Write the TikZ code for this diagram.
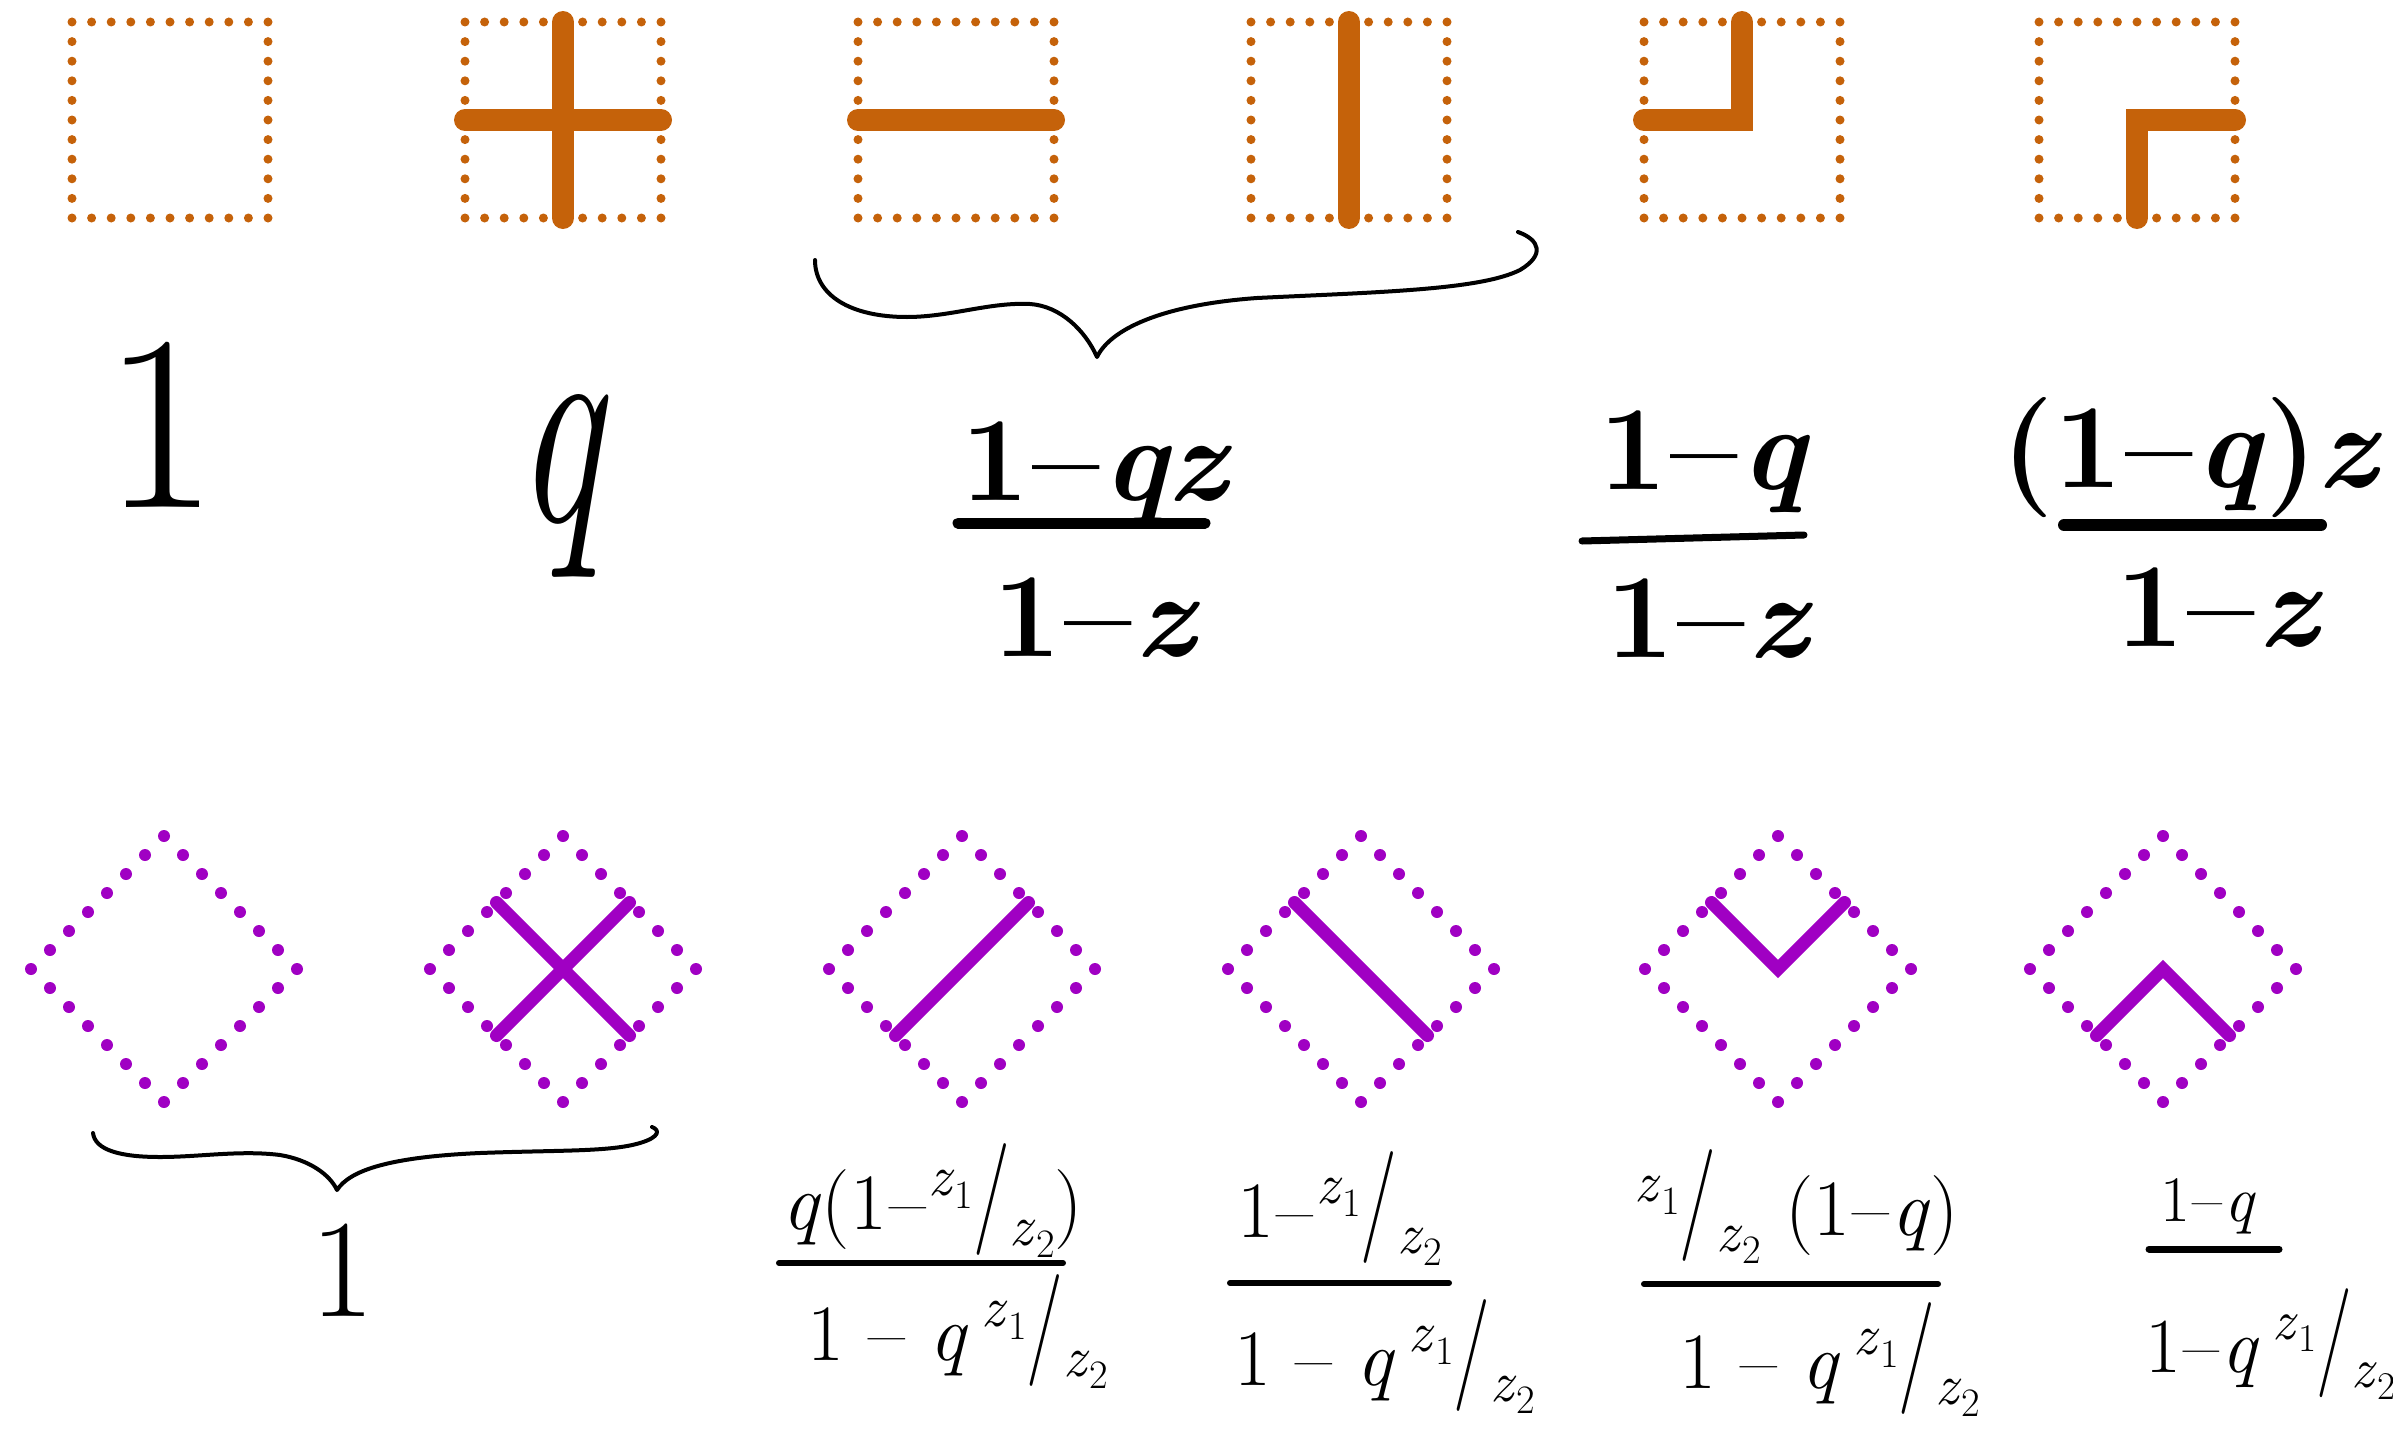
\documentclass[tikz,border=0pt]{standalone}
\usepackage{graphicx}
\definecolor{orng}{HTML}{C5620A}
\definecolor{purp}{HTML}{A000C3}
% small sub/super pieces built from the (scalable) text font
\newcommand{\zsub}[1]{\textit{z}\raisebox{-0.22em}{\scalebox{0.7}{#1}}}
\newcommand{\zz}{\raisebox{0.42em}{\scalebox{0.72}{\zsub{1}}}\raisebox{0.02em}{\scalebox{1}[1.4]{/}}\raisebox{-0.2em}{\scalebox{0.72}{\zsub{2}}}}
\newcommand{\mn}{\kern0.03em\textendash\kern0.03em}
\newcommand{\ft}{\fontsize{120}{144}\selectfont\bfseries}
\newcommand{\fb}{\fontsize{80}{96}\selectfont}
% dotted square: centre x, centre y
\newcommand{\obox}[2]{%
  \foreach \i in {0,...,9}{%
    \fill[orng] ({#1-98+19.6*\i},{#2-98}) circle (4.5);
    \fill[orng] ({#1+98},{#2-98+19.6*\i}) circle (4.5);
    \fill[orng] ({#1+98-19.6*\i},{#2+98}) circle (4.5);
    \fill[orng] ({#1-98},{#2+98-19.6*\i}) circle (4.5);
  }}
% dotted diamond: centre x, centre y
\newcommand{\pdiam}[2]{%
  \foreach \i in {0,...,6}{%
    \fill[purp] ({#1+19*\i},{#2-133+19*\i}) circle (6);
    \fill[purp] ({#1+133-19*\i},{#2+19*\i}) circle (6);
    \fill[purp] ({#1-19*\i},{#2+133-19*\i}) circle (6);
    \fill[purp] ({#1-133+19*\i},{#2-19*\i}) circle (6);
  }}
\tikzset{
  lab/.style={inner sep=0pt, anchor=base},
  obar/.style={orng, line width=22pt, line cap=round},
  pbar/.style={purp, line width=13pt, line cap=round},
  brace/.style={line width=4pt, line cap=round, line join=round},
  fbar/.style={line width=#1, line cap=round},
}
\begin{document}
\begin{tikzpicture}[x=1pt,y=-1pt]
\useasboundingbox (0,0) rectangle (2393,1429);
\fill[white] (0,0) rectangle (2393,1429);

% ---------- top row: dotted squares ----------
\obox{170}{120}
\obox{563}{120}
\obox{956}{120}
\obox{1349}{120}
\obox{1742}{120}
\obox{2137}{120}

\draw[obar] (465,120) -- (661,120);
\draw[obar] (563,22) -- (563,218);
\draw[obar] (858,120) -- (1054,120);
\draw[obar] (1349,22) -- (1349,218);
\draw[obar] (1742,22) -- (1742,120) -- (1644,120);
\draw[obar] (2137,218) -- (2137,120) -- (2235,120);

% top brace
\draw[brace] (815,260) .. controls (815,295) and (850,317) .. (907,317)
  .. controls (950,317) and (990,302) .. (1030,304)
  .. controls (1060,306) and (1085,330) .. (1097,357)
  .. controls (1110,330) and (1160,305) .. (1257,298)
  .. controls (1380,292) and (1480,290) .. (1520,270)
  .. controls (1545,255) and (1540,240) .. (1518,232);

% top labels
\node[lab, font=\fontsize{250}{300}\selectfont] (one) at (161,507) {1};
\node[inner sep=0pt, font=\fontsize{240}{288}\selectfont] (q) at (562,486) {\scalebox{0.8}[1.2]{\textit{q}}};

\node[lab, font=\ft] (f3n) at (1097,500) {1\mn\textit{qz}};
\draw[fbar=11pt] (958,523) -- (1205,523);
\node[lab, font=\ft] (f3d) at (1097,656) {1\mn\textit{z}};

\node[lab, font=\ft] (f4n) at (1705,489) {1\mn\textit{q}};
\draw[fbar=7pt] (1582,541) -- (1804,535);
\node[lab, font=\ft] (f4d) at (1710,657) {1\mn\textit{z}};

\node[lab, font=\ft] (f5n) at (2192,487) {(1\mn\textit{q})\textit{z}};
\draw[fbar=12pt] (2064,525) -- (2321,525);
\node[lab, font=\ft] (f5d) at (2220,646) {1\mn\textit{z}};

% ---------- bottom row: dotted diamonds ----------
\pdiam{164}{969}
\pdiam{563}{969}
\pdiam{962}{969}
\pdiam{1361}{969}
\pdiam{1778}{969}
\pdiam{2163}{969}

\draw[pbar] (496.5,902.5) -- (629.5,1035.5);
\draw[pbar] (629.5,902.5) -- (496.5,1035.5);
\draw[pbar] (895.5,1035.5) -- (1028.5,902.5);
\draw[pbar] (1294.5,902.5) -- (1427.5,1035.5);
\draw[pbar] (1711.5,902.5) -- (1778,969) -- (1844.5,902.5);
\draw[pbar] (2096.5,1035.5) -- (2163,969) -- (2229.5,1035.5);

% bottom brace
\draw[brace] (93,1133) .. controls (95,1150) and (120,1157) .. (160,1157)
  .. controls (200,1157) and (240,1150) .. (280,1155)
  .. controls (310,1160) and (330,1175) .. (337,1190)
  .. controls (350,1170) and (390,1157) .. (480,1153)
  .. controls (560,1150) and (610,1152) .. (640,1143)
  .. controls (660,1137) and (660,1130) .. (652,1127);

\node[lab, font=\fontsize{140}{168}\selectfont] (b1) at (343,1316) {1};

% bottom labels
\node[lab, font=\fb] (d3n) at (933,1229) {\textit{q}(1\mn\zz)};
\draw[fbar=6pt] (779,1263) -- (1063,1263);
\node[lab, font=\fb] (d3d) at (958,1360) {1 \textendash\ \textit{q}\,\zz};

\node[lab, font=\fb] (d4n) at (1340,1237) {1\mn\zz};
\draw[fbar=6pt] (1230,1283) -- (1449,1283);
\node[lab, font=\fb] (d4d) at (1385,1385) {1 \textendash\ \textit{q}\,\zz};

\node[lab, font=\fb] (d5n) at (1797,1235) {\zz\ (1\mn\textit{q})};
\draw[fbar=6pt] (1644,1284) -- (1938,1284);
\node[lab, font=\fb] (d5d) at (1830,1388) {1 \textendash\ \textit{q}\,\zz};

\node[lab, font=\fontsize{65}{78}\selectfont] (d6n) at (2208,1221) {1\mn\textit{q}};
\draw[fbar=7pt] (2149,1249) -- (2279,1249);
\node[lab, anchor=base west, font=\fontsize{78}{94}\selectfont] (d6d) at (2145,1372) {1\mn\textit{q}\,\zz};
\end{tikzpicture}
\end{document}
